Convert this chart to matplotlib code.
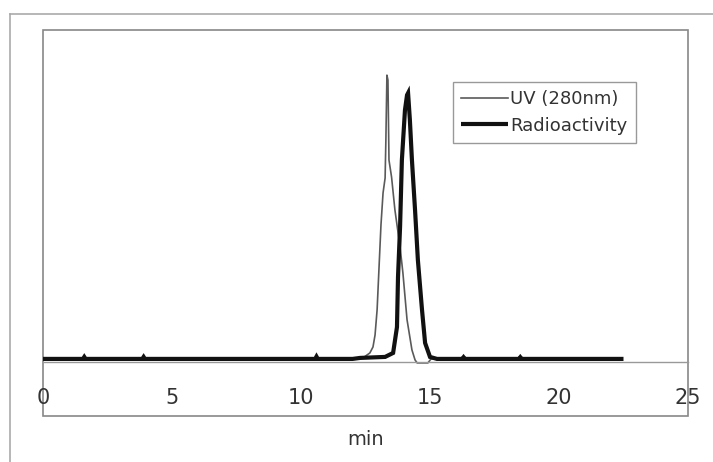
import matplotlib.pyplot as plt
from matplotlib.lines import Line2D

# UV trace (time in min, signal in arbitrary units)
uv_time = [0.0, 2.0, 5.0, 8.0, 10.0, 12.0, 12.40, 12.67, 12.79, 12.87, 12.95, 13.02,
           13.10, 13.18, 13.26, 13.29, 13.33, 13.37, 13.41, 13.51, 13.64, 13.84,
           13.95, 14.11, 14.30, 14.42, 14.50, 14.92, 15.04, 18.0, 21.5]
uv_signal = [0.9, 0.9, 0.9, 0.9, 0.9, 0.9, 1.2, 2.7, 4.5, 8.1, 15.7, 27.7,
             41.3, 50.9, 55.4, 66.9, 86.4, 84.9, 60.8, 55.7, 45.8, 34.6,
             26.8, 12.7, 3.6, 0.6, -0.3, -0.3, 0.9, 0.9, 0.9]

# Radioactivity trace
ra_time = [0.0, 1.55, 1.6, 1.65, 3.85, 3.9, 3.95, 7.0, 10.55, 10.6, 10.65, 12.0, 12.29,
           13.26, 13.57, 13.72, 13.76, 13.84, 13.91, 14.03, 14.11, 14.15, 14.22,
           14.30, 14.42, 14.53, 14.69, 14.81, 15.0, 15.27, 16.25, 16.3, 16.35,
           18.45, 18.5, 18.55, 22.5]
ra_signal = [0.9, 0.9, 1.5, 0.9, 0.9, 1.5, 0.9, 0.9, 0.9, 1.6, 0.9, 0.9, 1.2,
             1.5, 2.7, 10.5, 25.6, 40.7, 60.8, 75.9, 80.4, 81.0, 72.9,
             60.8, 45.8, 30.7, 15.7, 5.7, 1.5, 0.9, 0.9, 1.4, 0.9,
             0.9, 1.4, 0.9, 0.9]

xticks = [0, 5, 10, 15, 20, 25]
xtick_labels = ["0", "5", "10", "15", "20", "25"]

fig = plt.figure(figsize=(7.13, 4.62), dpi=100)
ax = fig.add_axes([43 / 713, 46 / 462, 645 / 713, 386 / 462])

ax.plot(uv_time, uv_signal, color="#5a5a5a", lw=1.2, label="UV (280nm)")
ax.plot(ra_time, ra_signal, color="#111111", lw=3.0, label="Radioactivity",
        solid_capstyle="butt", solid_joinstyle="miter")

ax.set_xlim(0, 25)
ax.set_ylim(-16.3, 100)
ax.set_yticks([])
ax.set_xticks(xticks)
ax.set_xticklabels(xtick_labels)
ax.tick_params(axis="x", length=0, pad=19, labelsize=15, labelcolor="#333333")

# Excel style: axis line at y=0, box frame around plot area
for side in ["top", "left", "right"]:
    ax.spines[side].set_visible(False)
ax.spines["bottom"].set_position(("data", 0))
ax.spines["bottom"].set_color("#999999")
ax.spines["bottom"].set_linewidth(1.0)
ax.patch.set_edgecolor("#888888")
ax.patch.set_linewidth(1.2)

ax.set_xlabel("min", fontsize=14, color="#333333")
ax.xaxis.set_label_coords(0.5, -0.035)

leg = ax.legend(loc="upper right", bbox_to_anchor=(0.933, 0.888), fontsize=13,
                fancybox=False, framealpha=1, edgecolor="#999999",
                handlelength=2.6, handletextpad=0.15, borderpad=0.45, labelspacing=0.45)
for t in leg.get_texts():
    t.set_color("#333333")

# outer chart frame
fig.add_artist(Line2D([10 / 713, 1.0], [1 - 14 / 462, 1 - 14 / 462], color="#aaaaaa", lw=1.2))
fig.add_artist(Line2D([10 / 713, 10 / 713], [0, 1 - 14 / 462], color="#aaaaaa", lw=1.2))

plt.savefig("out.png")
